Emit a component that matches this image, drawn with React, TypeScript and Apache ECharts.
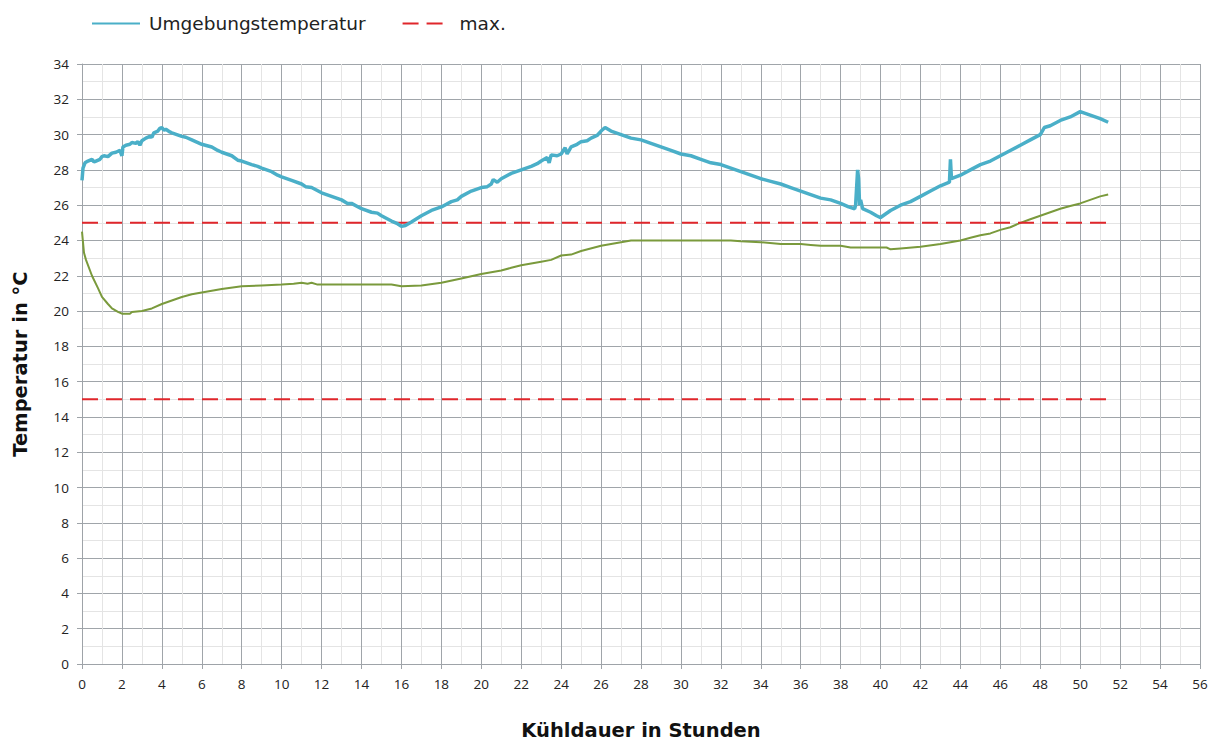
import React, { useEffect, useRef } from "react";
import * as echarts from "echarts";

const ambient: number[][] = [
  [0, 27.4], [0.05, 28.1], [0.15, 28.4], [0.3, 28.5], [0.5, 28.6], [0.6, 28.45], [0.7, 28.5], [0.9, 28.6], [1.0, 28.75],
  [1.1, 28.8], [1.3, 28.75], [1.5, 28.95], [1.7, 29.0], [1.9, 29.1], [2.0, 28.8], [2.05, 29.3], [2.2, 29.4], [2.4, 29.45],
  [2.5, 29.55], [2.7, 29.5], [2.8, 29.6], [2.9, 29.4], [3.0, 29.65], [3.2, 29.8], [3.4, 29.9], [3.5, 29.85], [3.6, 30.1],
  [3.8, 30.2], [3.9, 30.35], [4.0, 30.4], [4.1, 30.25], [4.2, 30.3], [4.4, 30.15], [4.5, 30.1], [5, 29.9], [5.2, 29.85],
  [5.5, 29.7], [6, 29.45], [6.5, 29.3], [6.8, 29.1], [7, 29.0], [7.5, 28.8], [7.8, 28.55], [8, 28.5], [8.5, 28.3], [8.8, 28.2],
  [9, 28.1], [9.5, 27.9], [9.8, 27.7], [10, 27.6], [10.5, 27.4], [11, 27.2], [11.2, 27.05], [11.5, 27.0], [12, 26.7],
  [12.5, 26.5], [13, 26.3], [13.3, 26.1], [13.5, 26.1], [14, 25.8], [14.5, 25.6], [14.8, 25.55], [15, 25.4], [15.5, 25.1],
  [15.8, 24.95], [16, 24.8], [16.2, 24.85], [16.5, 25.05], [17, 25.4], [17.5, 25.7], [18, 25.9], [18.5, 26.2], [18.8, 26.3],
  [19, 26.5], [19.5, 26.8], [20, 27.0], [20.3, 27.05], [20.5, 27.2], [20.6, 27.45], [20.8, 27.3], [21, 27.5], [21.5, 27.8],
  [22, 28.0], [22.5, 28.2], [22.8, 28.35], [23, 28.5], [23.3, 28.7], [23.4, 28.4], [23.5, 28.85], [23.8, 28.8], [24, 28.9],
  [24.2, 29.25], [24.3, 28.9], [24.5, 29.3], [24.8, 29.45], [25, 29.6], [25.3, 29.65], [25.5, 29.8], [25.8, 29.95], [26, 30.2],
  [26.2, 30.4], [26.5, 30.2], [27, 30.0], [27.5, 29.8], [28, 29.7], [28.5, 29.5], [29, 29.3], [29.5, 29.1], [30, 28.9],
  [30.5, 28.8], [31, 28.6], [31.5, 28.4], [32, 28.3], [32.5, 28.1], [33, 27.9], [33.5, 27.7], [34, 27.5], [34.5, 27.35],
  [35, 27.2], [35.5, 27.0], [36, 26.8], [36.5, 26.6], [37, 26.4], [37.5, 26.3], [38, 26.1], [38.4, 25.9], [38.7, 25.8],
  [38.75, 26.0], [38.85, 28.0], [38.9, 27.5], [38.95, 26.0], [39.0, 26.3], [39.1, 25.8], [39.5, 25.6], [39.8, 25.4],
  [40, 25.3], [40.5, 25.7], [41, 26.0], [41.5, 26.2], [42, 26.5], [42.5, 26.8], [43, 27.1], [43.45, 27.3], [43.5, 28.6],
  [43.55, 27.5], [44, 27.7], [44.5, 28.0], [45, 28.3], [45.5, 28.5], [46, 28.8], [46.5, 29.1], [47, 29.4], [47.5, 29.7],
  [48, 30.0], [48.2, 30.4], [48.5, 30.5], [49, 30.8], [49.5, 31.0], [50, 31.3], [50.5, 31.1], [51, 30.9], [51.4, 30.7],
];

const product: number[][] = [
  [0, 24.5], [0.1, 23.3], [0.2, 22.9], [0.5, 22.0], [0.8, 21.3], [1, 20.8], [1.3, 20.4], [1.5, 20.15], [1.8, 19.95],
  [2, 19.85], [2.4, 19.85], [2.5, 19.95], [3, 20.0], [3.5, 20.15], [4, 20.4], [4.5, 20.6], [5, 20.8], [5.5, 20.95],
  [6, 21.05], [7, 21.25], [8, 21.4], [9, 21.45], [10, 21.5], [10.6, 21.55], [11, 21.6], [11.3, 21.55], [11.5, 21.6],
  [11.8, 21.5], [12, 21.5], [13, 21.5], [14, 21.5], [15, 21.5], [15.5, 21.5], [16, 21.4], [17, 21.45], [18, 21.6],
  [19, 21.85], [20, 22.1], [21, 22.3], [21.5, 22.45], [22, 22.6], [23, 22.8], [23.5, 22.9], [24, 23.15], [24.5, 23.2],
  [25, 23.4], [26, 23.7], [27, 23.9], [27.5, 24.0], [28, 24.0], [30, 24.0], [32, 24.0], [32.5, 24.0], [33, 23.95],
  [34, 23.9], [35, 23.8], [36, 23.8], [36.5, 23.75], [37, 23.7], [38, 23.7], [38.5, 23.6], [39.5, 23.6], [40.3, 23.6],
  [40.5, 23.5], [41, 23.55], [42, 23.65], [43, 23.8], [44, 24.0], [44.5, 24.15], [45, 24.3], [45.5, 24.4], [46, 24.6],
  [46.5, 24.75], [47, 25.0], [47.5, 25.2], [48, 25.4], [48.5, 25.6], [49, 25.8], [49.5, 25.95], [50, 26.1],
  [50.5, 26.3], [51, 26.5], [51.4, 26.6],
];

const maxUpper: number[][] = [[0, 25], [51.5, 25]];
const maxLower: number[][] = [[0, 15], [51.5, 15]];

const legendNames = ["Umgebungstemperatur", "max."];

export default function App() {
  const ref = useRef<HTMLDivElement>(null);
  useEffect(() => {
    document.body.style.margin = "0";
    if (!ref.current) return;
    const chart = echarts.init(ref.current, undefined, { renderer: "svg" });
    const axisLabelStyle = { color: "#222", fontSize: 13.5, fontFamily: "Open Sans" };
    const titleStyle = { color: "#111", fontSize: 19.5, fontWeight: "bold", fontFamily: "DejaVu Sans" };
    chart.setOption({
      animation: false,
      legend: {
        data: legendNames,
        left: 86,
        top: 9,
        itemWidth: 48,
        itemHeight: 14,
        itemGap: 36,
        itemStyle: { opacity: 0 },
        textStyle: { color: "#222", fontSize: 18.5, fontFamily: "DejaVu Sans", padding: [0, 0, 0, 4] },
      },
      grid: { left: 82, right: 16, top: 64, bottom: 79, containLabel: false, outerBoundsMode: "none" },
      xAxis: {
        type: "value",
        min: 0,
        max: 56,
        interval: 2,
        name: "Kühldauer in Stunden",
        nameLocation: "middle",
        nameGap: 56,
        nameTextStyle: titleStyle,
        axisLine: { show: true, lineStyle: { color: "#9ea3a8", width: 1 } },
        axisTick: { show: true, length: 5, lineStyle: { color: "#9ea3a8" } },
        axisLabel: { ...axisLabelStyle, margin: 13 },
        splitLine: { show: true, lineStyle: { color: "#a0a5aa", width: 1 } },
        minorTick: { show: false, splitNumber: 2 },
        minorSplitLine: { show: true, lineStyle: { color: "#e4e4e4", width: 1 } },
      },
      yAxis: {
        type: "value",
        min: 0,
        max: 34,
        interval: 2,
        name: "Temperatur in °C",
        nameLocation: "middle",
        nameGap: 52,
        nameTextStyle: titleStyle,
        axisLine: { show: true, lineStyle: { color: "#9ea3a8", width: 1 } },
        axisTick: { show: true, length: 5, lineStyle: { color: "#9ea3a8" } },
        axisLabel: { ...axisLabelStyle, margin: 13 },
        splitLine: { show: true, lineStyle: { color: "#a0a5aa", width: 1 } },
        minorTick: { show: false, splitNumber: 2 },
        minorSplitLine: { show: true, lineStyle: { color: "#e4e4e4", width: 1 } },
      },
      series: [
        {
          name: "Produkttemperatur",
          type: "line",
          data: product,
          symbol: "none",
          lineStyle: { color: "#7a9a3c", width: 2 },
          itemStyle: { color: "#7a9a3c" },
          z: 3,
        },
        {
          name: "max.",
          type: "line",
          data: maxUpper,
          symbol: "none",
          lineStyle: { color: "#e0262b", width: 2, type: [16, 8] },
          itemStyle: { color: "#e0262b" },
          z: 4,
        },
        {
          name: "max.",
          type: "line",
          data: maxLower,
          symbol: "none",
          lineStyle: { color: "#e0262b", width: 2, type: [16, 8] },
          itemStyle: { color: "#e0262b" },
          z: 4,
        },
        {
          name: "Umgebungstemperatur",
          type: "line",
          data: ambient,
          symbol: "none",
          lineStyle: { color: "#4aafc8", width: 3.5 },
          itemStyle: { color: "#4aafc8" },
          z: 5,
        },
      ],
    });
    return () => chart.dispose();
  }, []);
  return <div ref={ref} style={{ width: 1216, height: 743 }} />;
}
